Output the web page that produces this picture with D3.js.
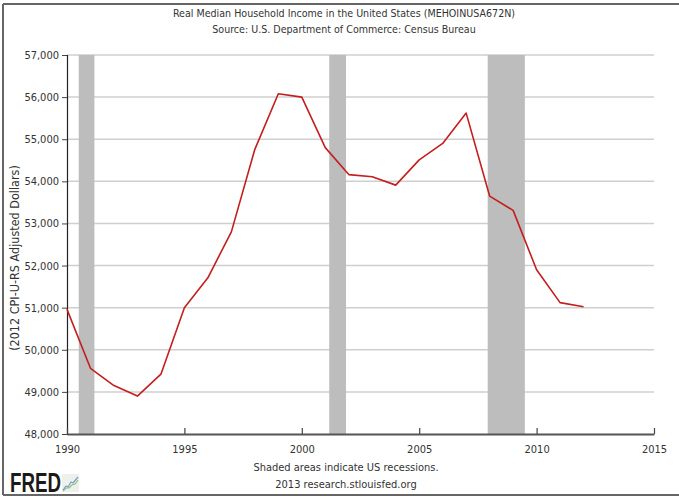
<!DOCTYPE html>
<html>
<head>
<meta charset="utf-8">
<script src="https://cdn.jsdelivr.net/npm/d3@7/dist/d3.min.js"></script>
<style>
  html, body { margin: 0; padding: 0; background: #fff; }
  svg { display: block; }
  text { font-family: "DejaVu Sans Condensed", "DejaVu Sans", sans-serif; font-stretch: condensed; fill: #333; }
</style>
</head>
<body>
<svg id="chart" width="679" height="497"></svg>
<script>
// Real median household income, 2012 CPI-U-RS adjusted dollars
const years = [1990, 1991, 1992, 1993, 1994, 1995, 1996, 1997, 1998, 1999, 2000,
               2001, 2002, 2003, 2004, 2005, 2006, 2007, 2008, 2009, 2010, 2011, 2012];
const income = [50960, 49560, 49150, 48900, 49420, 51000, 51710, 52800, 54760, 56080, 56000,
                54800, 54160, 54110, 53910, 54510, 54900, 55620, 53650, 53310, 51900, 51120, 51020];

// NBER recession periods (fractional years)
const recessionStart = [1990.5, 2001.167, 2007.917];
const recessionEnd   = [1991.167, 2001.883, 2009.5];

const xTicks = [1990, 1995, 2000, 2005, 2010, 2015];
const yTicks = [48000, 49000, 50000, 51000, 52000, 53000, 54000, 55000, 56000, 57000];

const titleLines = ["Real Median Household Income in the United States (MEHOINUSA672N)",
                    "Source: U.S. Department of Commerce: Census Bureau"];
const yTitle = "(2012 CPI-U-RS Adjusted Dollars)";
const footLines = ["Shaded areas indicate US recessions.", "2013 research.stlouisfed.org"];

const svg = d3.select("#chart");
const W = 679, H = 497;
const plotLeft = 67, plotRight = 654, plotTop = 55, plotBottom = 434;

const x = d3.scaleLinear().domain([1990, 2015]).range([plotLeft, plotRight]);
const y = d3.scaleLinear().domain([48000, 57000]).range([plotBottom, plotTop]);
const fmt = d3.format(",");

// outer frame
svg.append("line").attr("x1", 3).attr("x2", W).attr("y1", 4).attr("y2", 4)
  .attr("stroke", "#666").attr("stroke-width", 2);
svg.append("line").attr("x1", 3).attr("x2", 3).attr("y1", 4).attr("y2", 495)
  .attr("stroke", "#666").attr("stroke-width", 2);
svg.append("line").attr("x1", 3).attr("x2", W).attr("y1", 495).attr("y2", 495)
  .attr("stroke", "#666").attr("stroke-width", 2);

// titles
svg.selectAll("text.title").data(titleLines).enter().append("text")
  .attr("class", "title")
  .attr("x", 344).attr("y", (d, i) => 17 + i * 16)
  .attr("text-anchor", "middle").attr("font-size", 10.6)
  .text(d => d);

// horizontal grid
svg.append("g").selectAll("line").data(yTicks.filter(d => d > 48000)).enter().append("line")
  .attr("x1", plotLeft).attr("x2", plotRight)
  .attr("y1", d => y(d)).attr("y2", d => y(d))
  .attr("stroke", "#cfcfcf").attr("stroke-width", 1.5);

// recession shading
svg.append("g").selectAll("rect").data(recessionStart).enter().append("rect")
  .attr("x", d => x(d))
  .attr("width", (d, i) => x(recessionEnd[i]) - x(d))
  .attr("y", y(57000)).attr("height", y(48000) - y(57000))
  .attr("fill", "#bdbdbd");

// y axis
const yAxis = d3.axisLeft(y).tickValues(yTicks).tickFormat(fmt).tickSize(5).tickPadding(3);
const gy = svg.append("g").attr("transform", `translate(${plotLeft},0)`).call(yAxis);
gy.select(".domain").attr("stroke", "#222").attr("stroke-width", 1.2);
gy.selectAll(".tick line").attr("stroke", "#444");
gy.selectAll(".tick text").attr("font-size", 11).attr("fill", "#333");

// x axis with ticks pointing up into the plot
const xAxis = d3.axisBottom(x).tickValues(xTicks).tickFormat(d3.format("d")).tickSize(0).tickPadding(0);
const gx = svg.append("g").attr("transform", `translate(0,${plotBottom})`).call(xAxis);
gx.select(".domain").attr("stroke", "#555").attr("stroke-width", 2);
gx.selectAll(".tick").append("line")
  .attr("y1", 0).attr("y2", -6).attr("stroke", "#444").attr("stroke-width", 1.2);
gx.selectAll(".tick text").attr("font-size", 11).attr("fill", "#333")
  .attr("y", 19).attr("dy", 0);
svg.selectAll("g").attr("font-family", null);

// y axis title
svg.append("text")
  .attr("transform", "translate(19,258) rotate(-90)")
  .attr("text-anchor", "middle").attr("font-size", 12.5)
  .text(yTitle);

// income line
const line = d3.line().x((d, i) => x(years[i])).y(d => y(d));
svg.append("path").datum(income)
  .attr("d", line)
  .attr("fill", "none").attr("stroke", "#c41e1e").attr("stroke-width", 1.6)
  .attr("stroke-linejoin", "round");

// footer
svg.selectAll("text.foot").data(footLines).enter().append("text")
  .attr("class", "foot")
  .attr("x", 346).attr("y", (d, i) => 471 + i * 17)
  .attr("text-anchor", "middle").attr("font-size", 11)
  .text(d => d);

// FRED logo
svg.append("text").attr("x", 10).attr("y", 492)
  .attr("font-size", 27).attr("font-weight", "bold")
  .attr("textLength", 51).attr("lengthAdjust", "spacingAndGlyphs")
  .style("font-family", "'Liberation Sans', Arial, sans-serif")
  .style("fill", "#1a1a1a")
  .text("FRED");
const icon = svg.append("g").attr("transform", "translate(62,474)");
icon.append("rect").attr("width", 17).attr("height", 18).attr("fill", "#eef0ec");
const iconBlue = [[1, 16], [4, 12], [6, 13], [9, 8], [11, 9], [16, 3]];
const iconGreen = [[1, 17], [4, 14], [7, 14], [10, 11], [13, 10], [16, 6]];
icon.append("path").attr("d", d3.line()(iconGreen)).attr("fill", "none")
  .attr("stroke", "#8fbf7a").attr("stroke-width", 1.2);
icon.append("path").attr("d", d3.line()(iconBlue)).attr("fill", "none")
  .attr("stroke", "#7c9cc8").attr("stroke-width", 1.2);
</script>
</body>
</html>
